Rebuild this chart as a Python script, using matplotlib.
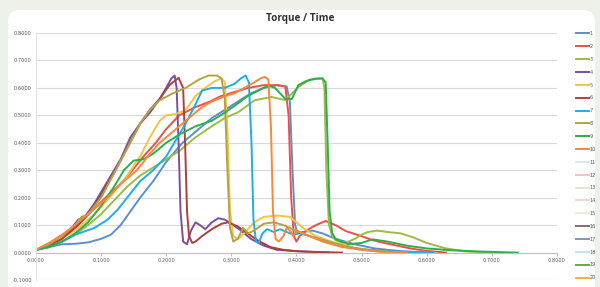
import matplotlib
matplotlib.use("Agg")
import matplotlib.pyplot as plt
from matplotlib.patches import FancyBboxPatch
from matplotlib.transforms import IdentityTransform

# series values (time, torque)
t1 = [0, 0.02, 0.04, 0.06, 0.08, 0.10, 0.115, 0.13, 0.145, 0.16, 0.18, 0.20, 0.225, 0.25, 0.27, 0.29, 0.31, 0.33, 0.35, 0.37, 0.385, 0.39, 0.394, 0.398, 0.402, 0.41, 0.425, 0.44, 0.46, 0.49, 0.52, 0.56, 0.60]
v1 = [0.01, 0.02, 0.03, 0.032, 0.037, 0.05, 0.065, 0.1, 0.15, 0.2, 0.26, 0.33, 0.4, 0.45, 0.49, 0.52, 0.55, 0.58, 0.6, 0.61, 0.605, 0.55, 0.3, 0.1, 0.07, 0.075, 0.08, 0.07, 0.05, 0.03, 0.015, 0.005, 0.0]

t2 = [0, 0.02, 0.04, 0.065, 0.085, 0.107, 0.13, 0.148, 0.165, 0.184, 0.2, 0.22, 0.245, 0.267, 0.284, 0.305, 0.326, 0.35, 0.37, 0.383, 0.388, 0.392, 0.396, 0.40, 0.405, 0.415, 0.43, 0.445, 0.46, 0.476, 0.5, 0.517, 0.535, 0.553, 0.575, 0.6, 0.63]
v2 = [0.01, 0.03, 0.06, 0.1, 0.15, 0.2, 0.25, 0.3, 0.35, 0.4, 0.45, 0.5, 0.53, 0.55, 0.57, 0.585, 0.6, 0.61, 0.61, 0.605, 0.5, 0.2, 0.06, 0.04, 0.06, 0.08, 0.1, 0.115, 0.1, 0.078, 0.06, 0.045, 0.035, 0.026, 0.015, 0.006, 0.0]

t3 = [0, 0.02, 0.04, 0.06, 0.08, 0.10, 0.12, 0.14, 0.16, 0.18, 0.20, 0.22, 0.245, 0.27, 0.29, 0.311, 0.336, 0.362, 0.383, 0.403, 0.42, 0.44, 0.443, 0.446, 0.45, 0.455, 0.46, 0.47, 0.48, 0.49, 0.50, 0.51, 0.524, 0.54, 0.56, 0.58, 0.60, 0.63, 0.66, 0.70]
v3 = [0.01, 0.02, 0.04, 0.065, 0.1, 0.14, 0.19, 0.24, 0.28, 0.31, 0.34, 0.37, 0.42, 0.46, 0.49, 0.512, 0.555, 0.567, 0.555, 0.603, 0.63, 0.634, 0.6, 0.3, 0.1, 0.06, 0.045, 0.035, 0.04, 0.05, 0.065, 0.075, 0.08, 0.075, 0.07, 0.055, 0.035, 0.015, 0.004, 0.0]

t4 = [0, 0.02, 0.04, 0.055, 0.065, 0.075, 0.09, 0.11, 0.13, 0.145, 0.16, 0.175, 0.19, 0.20, 0.208, 0.213, 0.216, 0.219, 0.222, 0.226, 0.232, 0.238, 0.245, 0.252, 0.26, 0.27, 0.28, 0.29, 0.30, 0.315, 0.33, 0.35, 0.37, 0.40, 0.45]
v4 = [0.01, 0.03, 0.06, 0.09, 0.12, 0.13, 0.18, 0.26, 0.34, 0.42, 0.47, 0.51, 0.56, 0.60, 0.635, 0.645, 0.60, 0.40, 0.15, 0.04, 0.03, 0.08, 0.11, 0.10, 0.085, 0.11, 0.125, 0.12, 0.105, 0.08, 0.05, 0.025, 0.01, 0.005, 0.0]

t5 = [0, 0.03, 0.06, 0.09, 0.12, 0.14, 0.16, 0.175, 0.19, 0.20, 0.215, 0.23, 0.245, 0.26, 0.275, 0.285, 0.29, 0.294, 0.298, 0.303, 0.31, 0.32, 0.335, 0.35, 0.37, 0.39, 0.40, 0.41, 0.43, 0.46, 0.50, 0.54]
v5 = [0.01, 0.04, 0.08, 0.14, 0.22, 0.28, 0.35, 0.42, 0.48, 0.50, 0.505, 0.52, 0.57, 0.60, 0.625, 0.635, 0.62, 0.45, 0.15, 0.06, 0.05, 0.07, 0.11, 0.13, 0.135, 0.13, 0.11, 0.09, 0.06, 0.035, 0.01, 0.0]

t6 = [0, 0.02, 0.04, 0.06, 0.08, 0.10, 0.12, 0.14, 0.16, 0.175, 0.19, 0.205, 0.219, 0.226, 0.229, 0.232, 0.235, 0.24, 0.245, 0.255, 0.27, 0.285, 0.295, 0.31, 0.325, 0.34, 0.36, 0.38, 0.40, 0.43, 0.47]
v6 = [0.01, 0.025, 0.05, 0.09, 0.14, 0.21, 0.29, 0.38, 0.47, 0.52, 0.56, 0.61, 0.637, 0.6, 0.4, 0.15, 0.06, 0.035, 0.04, 0.06, 0.085, 0.105, 0.11, 0.095, 0.07, 0.045, 0.02, 0.01, 0.005, 0.002, 0.0]

t7 = [0, 0.02, 0.04, 0.06, 0.09, 0.11, 0.125, 0.14, 0.16, 0.18, 0.20, 0.215, 0.23, 0.245, 0.255, 0.27, 0.29, 0.305, 0.315, 0.322, 0.327, 0.331, 0.334, 0.338, 0.342, 0.348, 0.355, 0.365, 0.375, 0.385, 0.395, 0.405, 0.42, 0.44, 0.47, 0.50, 0.54, 0.58, 0.61]
v7 = [0.01, 0.02, 0.04, 0.065, 0.09, 0.12, 0.155, 0.2, 0.26, 0.3, 0.35, 0.41, 0.47, 0.54, 0.59, 0.6, 0.6, 0.615, 0.635, 0.645, 0.62, 0.4, 0.12, 0.04, 0.035, 0.07, 0.085, 0.075, 0.085, 0.075, 0.065, 0.07, 0.06, 0.045, 0.025, 0.012, 0.005, 0.002, 0.0]

t8 = [0, 0.02, 0.04, 0.06, 0.07, 0.08, 0.10, 0.12, 0.14, 0.16, 0.175, 0.19, 0.21, 0.23, 0.25, 0.265, 0.278, 0.285, 0.29, 0.294, 0.298, 0.303, 0.31, 0.318, 0.326, 0.335, 0.35, 0.365, 0.38, 0.40, 0.42, 0.45, 0.48, 0.52, 0.56]
v8 = [0.01, 0.03, 0.06, 0.10, 0.13, 0.14, 0.20, 0.29, 0.38, 0.47, 0.52, 0.555, 0.58, 0.60, 0.63, 0.645, 0.645, 0.635, 0.56, 0.3, 0.09, 0.04, 0.05, 0.09, 0.07, 0.08, 0.105, 0.11, 0.10, 0.08, 0.06, 0.04, 0.02, 0.007, 0.0]

t9 = [0, 0.02, 0.04, 0.06, 0.08, 0.10, 0.12, 0.135, 0.15, 0.165, 0.18, 0.20, 0.22, 0.245, 0.27, 0.29, 0.31, 0.325, 0.342, 0.357, 0.367, 0.383, 0.393, 0.403, 0.415, 0.429, 0.44, 0.445, 0.448, 0.451, 0.455, 0.46, 0.47, 0.48, 0.50, 0.517, 0.54, 0.57, 0.60, 0.64, 0.68, 0.72, 0.74]
v9 = [0.01, 0.02, 0.04, 0.07, 0.11, 0.17, 0.24, 0.3, 0.335, 0.34, 0.36, 0.4, 0.43, 0.46, 0.48, 0.51, 0.543, 0.57, 0.591, 0.609, 0.6, 0.56, 0.56, 0.61, 0.625, 0.634, 0.635, 0.62, 0.4, 0.15, 0.07, 0.05, 0.04, 0.03, 0.035, 0.048, 0.04, 0.025, 0.015, 0.008, 0.004, 0.001, 0.0]

t10 = [0, 0.02, 0.04, 0.06, 0.085, 0.11, 0.13, 0.155, 0.175, 0.19, 0.215, 0.24, 0.255, 0.27, 0.29, 0.305, 0.32, 0.335, 0.345, 0.352, 0.357, 0.361, 0.364, 0.368, 0.373, 0.38, 0.385, 0.39, 0.395, 0.40, 0.41, 0.42, 0.44, 0.47, 0.50, 0.53, 0.57]
v10 = [0.01, 0.035, 0.065, 0.1, 0.15, 0.2, 0.25, 0.3, 0.36, 0.4, 0.45, 0.5, 0.53, 0.55, 0.57, 0.58, 0.6, 0.62, 0.635, 0.64, 0.63, 0.45, 0.15, 0.05, 0.04, 0.06, 0.09, 0.08, 0.06, 0.08, 0.07, 0.06, 0.04, 0.02, 0.01, 0.003, 0.0]

series_t = [t1, t2, t3, t4, t5, t6, t7, t8, t9, t10] + [[]] * 10
series_v = [v1, v2, v3, v4, v5, v6, v7, v8, v9, v10] + [[]] * 10
series_names = [str(i) for i in range(1, 21)]
series_colors = ["#5b8fd0", "#ef4f45", "#9dbb45", "#7a4f9e", "#f6c343", "#ad3f3c", "#1eade6", "#b3a343", "#2bae4b", "#f7873d",
                 "#d5e8f4", "#f8c3b6", "#dfe9d2", "#f1d5d5", "#ececdc", "#8d6d62", "#8595aa", "#bfe6f0", "#5faf3b", "#f2b632"]

y_ticks = [-0.1, 0.0, 0.1, 0.2, 0.3, 0.4, 0.5, 0.6, 0.7, 0.8]
x_ticks = [0.0, 0.1, 0.2, 0.3, 0.4, 0.5, 0.6, 0.7, 0.8]

fig = plt.figure(figsize=(6, 2.87), dpi=100, facecolor="#eef1ea")
card = FancyBboxPatch((8, -20), 587, 297, boxstyle="round,pad=0,rounding_size=12",
                      transform=IdentityTransform(), facecolor="white", edgecolor="none", zorder=-10)
fig.patches.append(card)

ax = fig.add_axes([0.06, 0.0244, 0.868, 0.8606])
ax.set_facecolor("none")

for t, v, name, c in zip(series_t, series_v, series_names, series_colors):
    ax.plot(t, v, color=c, lw=1.4, label=name, solid_joinstyle="round")

ax.set_xlim(0, 0.8)
ax.set_ylim(-0.1, 0.8)
ax.set_yticks(y_ticks)
ax.set_xticks(x_ticks)
ax.set_yticklabels([f"{y:.4f}" for y in y_ticks])
ax.set_xticklabels([f"{x:.4f}" for x in x_ticks])
ax.tick_params(labelsize=3.6, colors="#595959", length=0, pad=3)
ax.tick_params(axis="x", length=2, color="#bfbfbf", pad=2)
ax.grid(axis="y", color="#d9d9d9", lw=0.8)
ax.set_axisbelow(True)
for s in ["top", "right"]:
    ax.spines[s].set_visible(False)
ax.spines["left"].set_color("#e3e3e3")
ax.spines["bottom"].set_position(("data", 0))
ax.spines["bottom"].set_color("#bfbfbf")

fig.text(0.5, 0.935, "Torque / Time", ha="center", va="center", fontsize=7.2,
         fontweight="bold", family="Open Sans", color="#333333")

fig.legend(loc="upper left", bbox_to_anchor=(0.955, 0.9), frameon=False, fontsize=3.6,
           handlelength=2.6, handletextpad=0.3, labelspacing=1.57, borderpad=0, labelcolor="#595959")

fig.savefig("out.png", dpi=100, facecolor=fig.get_facecolor())
